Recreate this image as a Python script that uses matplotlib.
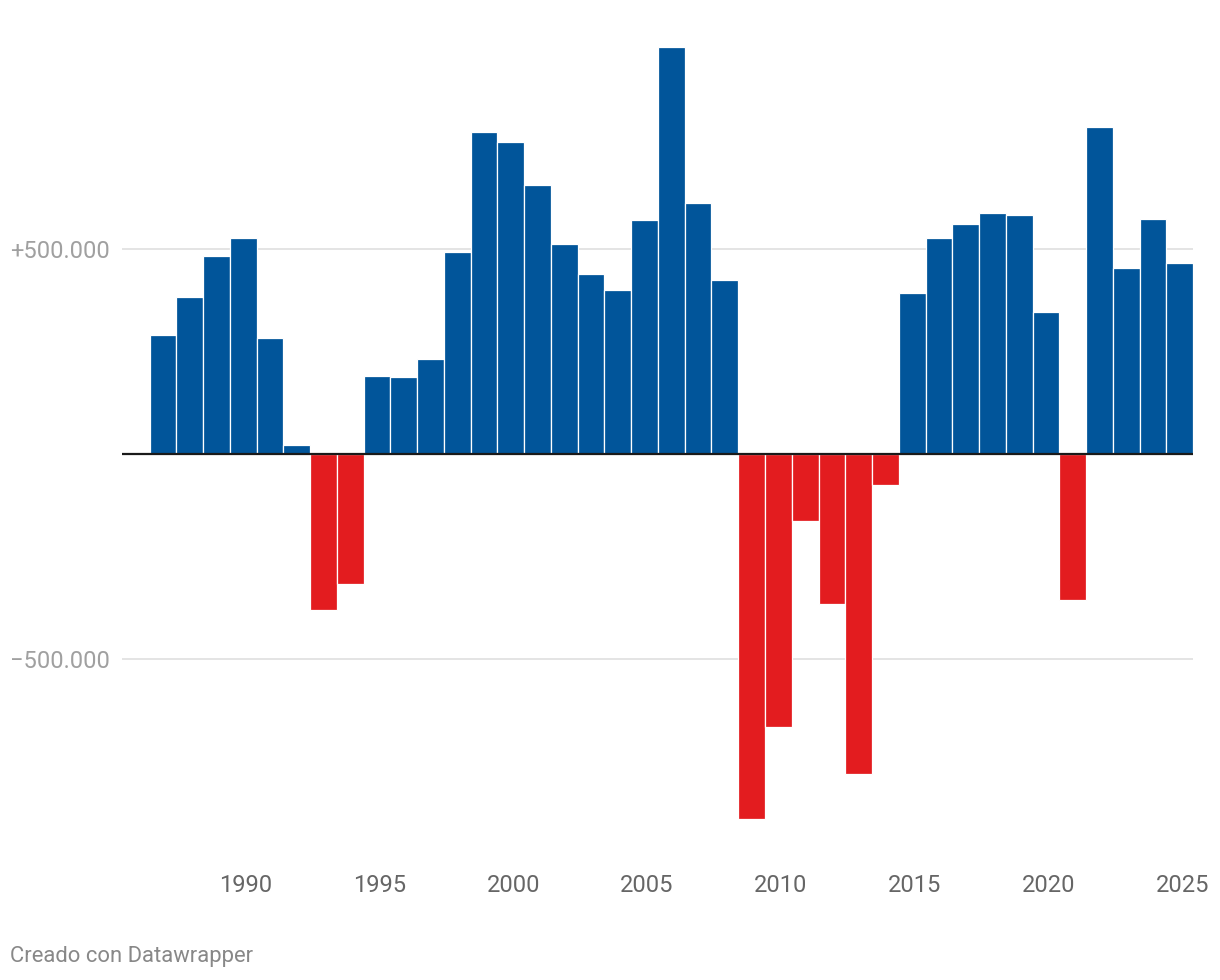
import numpy as np
import matplotlib
matplotlib.use("Agg")
import matplotlib.pyplot as plt
import matplotlib.transforms as mtransforms

# Datos: variación anual (años 1987-2025)
anios = list(range(1987, 2026))
valores = [
    291000, 382000, 482000, 526000, 282000, 23000, -380000, -317000,
    191000, 189000, 231000, 492000, 785000, 761000, 656000, 512000,
    439000, 400000, 570000, 992000, 612000, 424000, -890000, -666000,
    -163000, -366000, -780000, -76000, 392000, 526000, 561000, 587000,
    582000, 346000, -356000, 797000, 453000, 573000, 465000,
]
ticks_x = [1990, 1995, 2000, 2005, 2010, 2015, 2020, 2025]
ticks_y = [-500000, 500000]
etiquetas_y = ["\u2212500.000", "+500.000"]

plt.rcParams['font.family'] = ['Roboto', 'DejaVu Sans']

fig = plt.figure(figsize=(12.2, 9.8), dpi=100)
ax = fig.add_axes([0.1, 1 - 840 / 980, 0.978 - 0.1, (840 - 30) / 980])

colores = ['#01559a' if v >= 0 else '#e31c1f' for v in valores]
ax.bar(anios, valores, width=1.0, color=colores, edgecolor='white',
       linewidth=0.9, zorder=2)

for t in ticks_y:
    ax.axhline(t, color='#e2e2e2', linewidth=1.3, zorder=1)
ax.axhline(0, color='#1a1a1a', linewidth=1.6, zorder=3)

ax.set_xlim(1985.47, 2025.5)
ax.set_ylim(-(840 - 454) / 410 * 1e6, (454 - 30) / 410 * 1e6)

ax.set_xticks(ticks_x)
ax.set_xticklabels([str(t) for t in ticks_x])
ax.set_yticks(ticks_y)
ax.set_yticklabels(etiquetas_y)
ax.tick_params(axis='x', length=0, pad=24.5, labelsize=17, labelcolor='#666666')
ax.tick_params(axis='y', length=0, pad=9, labelsize=17, labelcolor='#a0a0a0')

# etiquetas del eje x un poco desplazadas a la derecha
desplaza = mtransforms.ScaledTranslation(2.5 / 100, 0, fig.dpi_scale_trans)
for lab in ax.get_xticklabels():
    lab.set_transform(lab.get_transform() + desplaza)

for s in ax.spines.values():
    s.set_visible(False)

fig.text(10 / 1220, 1 - 956 / 980, "Creado con Datawrapper", fontsize=15.8,
         color='#888888', ha='left', va='center')

fig.savefig("out.png", dpi=100)
